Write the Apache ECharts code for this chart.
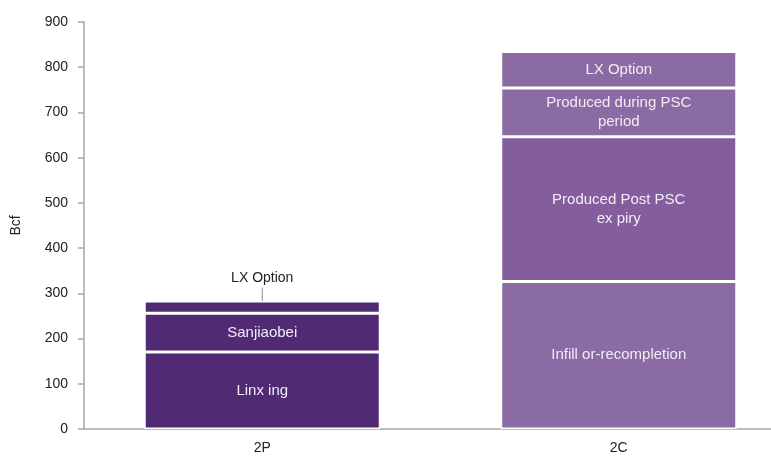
<!DOCTYPE html>
<html>
<head>
<meta charset="utf-8">
<script src="https://cdn.jsdelivr.net/npm/echarts@6/dist/echarts.min.js"></script>
<style>
  html, body { margin: 0; padding: 0; background: #fff; overflow: hidden; }
  /* the plot area continues a little past the right edge of the window */
  #chart { width: 797px; height: 460px; }
</style>
</head>
<body>
<div id="chart"></div>
<script>
// Reserve categories
const categories = ['2P', '2C'];

// Stacked layers, bottom to top (Bcf)
const layer1 = [170, 326];
const layer2 = [86, 320];
const layer3 = [27, 108];
const layer4 = [null, 81];

// Segment names shown inside the bars
const layer1Labels = ['Linx ing', 'Infill or-recompletion'];
const layer2Labels = ['Sanjiaobei', 'Produced Post PSC\nex piry'];
const layer3Labels = ['LX Option', 'Produced during PSC\nperiod'];
const layer4Labels = ['', 'LX Option'];

const yTicks = { min: 0, max: 900, interval: 100 };

const dark = '#512a74';
const light = '#8a6ba3';
const mid = '#845d9d';
const FONT = '"Liberation Sans", Arial, sans-serif';

function makeLayer(name, values, labels, colors2C, extra) {
  return Object.assign({
    name: name,
    type: 'bar',
    stack: 'total',
    barWidth: 236,
    itemStyle: { borderColor: '#ffffff', borderWidth: 1.5 },
    data: values.map((v, i) => ({
      value: v,
      itemStyle: { color: i === 0 ? dark : colors2C },
      label: {
        show: true,
        position: 'inside',
        formatter: labels[i],
        color: '#f2ecf6',
        fontFamily: FONT,
        fontSize: 15,
        lineHeight: 19
      }
    }))
  }, extra || {});
}

const chart = echarts.init(document.getElementById('chart'), null, { renderer: 'canvas' });

const l3 = makeLayer('layer3', layer3, layer3Labels, light, {
  labelLayout: function (p) {
    if (p.dataIndex === 0) return { dy: -29, dx: 0 };
    return {};
  },
  labelLine: { show: true, lineStyle: { color: '#8c8c8c', width: 1 } }
});
// The thin top segment of 2P carries its name above the bar in dark text
l3.data[0].label.color = '#222222';
l3.data[0].label.fontSize = 14;

chart.setOption({
  animation: false,
  backgroundColor: '#ffffff',
  grid: { left: 84, right: 0, top: 22, bottom: 31, containLabel: false },
  xAxis: {
    type: 'category',
    data: categories,
    axisLine: { lineStyle: { color: '#a6a6a6', width: 1.5 } },
    axisTick: { show: false },
    axisLabel: { color: '#222', fontFamily: FONT, fontSize: 14, margin: 12 }
  },
  yAxis: {
    type: 'value',
    min: yTicks.min,
    max: yTicks.max,
    interval: yTicks.interval,
    name: 'Bcf',
    nameLocation: 'middle',
    nameGap: 61,
    nameRotate: 90,
    nameTextStyle: { color: '#222', fontFamily: FONT, fontSize: 14 },
    axisLine: { show: true, lineStyle: { color: '#a6a6a6', width: 1.5 } },
    axisTick: { show: true, length: 6, lineStyle: { color: '#a6a6a6', width: 1.5 } },
    splitLine: { show: false },
    axisLabel: { color: '#222', fontFamily: FONT, fontSize: 14, margin: 16 }
  },
  series: [
    makeLayer('layer1', layer1, layer1Labels, light),
    makeLayer('layer2', layer2, layer2Labels, mid),
    l3,
    makeLayer('layer4', layer4, layer4Labels, light)
  ]
});
</script>
</body>
</html>
